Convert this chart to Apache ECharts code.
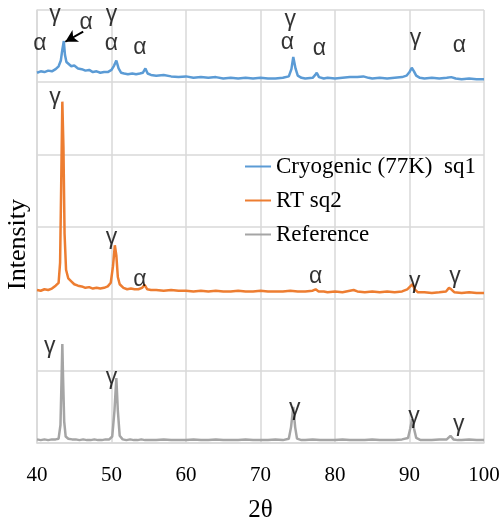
<!DOCTYPE html>
<html>
<head>
<meta charset="utf-8">
<script src="https://cdn.jsdelivr.net/npm/echarts@6/dist/echarts.min.js"></script>
<style>
  html, body { margin: 0; padding: 0; background: #fff; }
  #chart { width: 504px; height: 518px; }
</style>
</head>
<body>
<div id="chart"></div>
<script>
// 2θ ticks
const xTicks = [40, 50, 60, 70, 80, 90, 100]

// 液氮处理样品 (offset up)
const cryo = [
  [40, 5.13], [40.5, 5.15], [41, 5.14], [41.5, 5.16], [42, 5.15], [42.5, 5.18], [42.9, 5.22], [43.2, 5.3],
  [43.4, 5.45], [43.6, 5.57], [43.75, 5.38], [43.95, 5.28], [44.2, 5.26], [44.6, 5.22], [45, 5.23], [45.5, 5.19],
  [46, 5.18], [46.5, 5.16], [47, 5.17], [47.5, 5.14], [48, 5.15], [48.5, 5.13], [49, 5.14], [49.5, 5.14],
  [50, 5.17], [50.35, 5.23], [50.65, 5.3], [50.95, 5.19], [51.3, 5.13], [51.7, 5.12], [52.2, 5.11], [52.8, 5.12],
  [53.3, 5.11], [53.8, 5.12], [54.2, 5.13], [54.55, 5.19], [54.85, 5.12], [55.3, 5.1], [56, 5.09], [57, 5.1],
  [58, 5.08], [59, 5.07], [60, 5.08], [61, 5.06], [62, 5.07], [63, 5.06], [64, 5.07], [65, 5.05],
  [66, 5.06], [67, 5.05], [68, 5.06], [69, 5.05], [70, 5.06], [71, 5.05], [72, 5.05], [73, 5.06],
  [73.8, 5.08], [74.15, 5.18], [74.4, 5.35], [74.7, 5.19], [75, 5.09], [75.5, 5.06], [76, 5.05], [77, 5.06],
  [77.35, 5.1], [77.55, 5.13], [77.85, 5.07], [78.5, 5.05], [79, 5.06], [80, 5.05], [81, 5.06], [82, 5.07],
  [83, 5.07], [83.8, 5.08], [84.5, 5.06], [85, 5.05], [86, 5.06], [87, 5.05], [88, 5.06], [89, 5.07],
  [89.6, 5.09], [90, 5.14], [90.3, 5.2], [90.6, 5.15], [90.9, 5.09], [91.4, 5.06], [92, 5.05], [93, 5.06],
  [94, 5.05], [95, 5.06], [95.6, 5.07], [96.2, 5.05], [97, 5.04], [98, 5.05], [99, 5.04], [100, 5.04]
]

// 室温样品
const rt = [
  [40, 2.12], [40.5, 2.11], [41, 2.13], [41.5, 2.12], [42, 2.14], [42.5, 2.18], [42.9, 2.22], [43.1, 2.5],
  [43.25, 3.6], [43.4, 4.73], [43.55, 4.1], [43.7, 2.9], [43.9, 2.4], [44.2, 2.28], [44.6, 2.24], [45, 2.2],
  [45.5, 2.18], [46, 2.17], [46.5, 2.15], [47, 2.16], [47.5, 2.14], [48, 2.15], [48.5, 2.14], [49, 2.15],
  [49.5, 2.17], [49.9, 2.22], [50.2, 2.45], [50.45, 2.74], [50.65, 2.6], [50.85, 2.3], [51.1, 2.2], [51.6, 2.15],
  [52.1, 2.13], [52.6, 2.14], [53.1, 2.13], [53.6, 2.13], [54.1, 2.15], [54.45, 2.19], [54.8, 2.13], [55.3, 2.12],
  [56, 2.12], [57, 2.11], [58, 2.12], [59, 2.11], [60, 2.11], [61, 2.1], [62, 2.11], [63, 2.1],
  [64, 2.11], [65, 2.1], [66, 2.1], [67, 2.11], [68, 2.1], [69, 2.1], [70, 2.11], [71, 2.1],
  [72, 2.1], [73, 2.1], [74, 2.11], [75, 2.1], [76, 2.1], [77, 2.11], [77.4, 2.13], [77.8, 2.1],
  [78.5, 2.1], [79, 2.09], [80, 2.1], [81, 2.09], [82, 2.11], [82.5, 2.12], [83, 2.1], [84, 2.09],
  [85, 2.1], [86, 2.09], [87, 2.1], [88, 2.09], [89, 2.1], [89.7, 2.13], [90.1, 2.17], [90.4, 2.2],
  [90.7, 2.13], [91.1, 2.09], [92, 2.09], [93, 2.08], [94, 2.09], [94.9, 2.1], [95.3, 2.15], [95.6, 2.13],
  [96, 2.09], [97, 2.08], [98, 2.09], [99, 2.08], [100, 2.08]
]

// 参考样品
const ref = [
  [40, 0.05], [40.5, 0.04], [41, 0.05], [41.5, 0.04], [42, 0.05], [42.5, 0.05], [42.9, 0.06], [43.15, 0.25],
  [43.3, 0.9], [43.4, 1.37], [43.5, 0.9], [43.65, 0.3], [43.85, 0.09], [44.2, 0.06], [44.7, 0.05], [45.2, 0.05],
  [45.7, 0.04], [46.2, 0.05], [46.7, 0.04], [47.2, 0.04], [47.7, 0.05], [48.2, 0.04], [48.7, 0.04], [49.2, 0.05],
  [49.7, 0.05], [50.1, 0.09], [50.4, 0.45], [50.65, 0.9], [50.85, 0.45], [51.1, 0.1], [51.5, 0.05], [52, 0.04],
  [52.5, 0.05], [53, 0.04], [53.5, 0.04], [54, 0.05], [54.5, 0.04], [55, 0.04], [56, 0.04], [57, 0.05],
  [58, 0.04], [59, 0.04], [60, 0.04], [61, 0.05], [62, 0.04], [63, 0.04], [64, 0.05], [65, 0.04],
  [66, 0.04], [67, 0.04], [68, 0.05], [69, 0.04], [70, 0.04], [71, 0.04], [72, 0.05], [73, 0.04],
  [73.8, 0.06], [74.1, 0.22], [74.4, 0.5], [74.65, 0.22], [74.9, 0.06], [75.5, 0.04], [76, 0.04], [77, 0.05],
  [78, 0.04], [79, 0.04], [80, 0.04], [81, 0.05], [82, 0.04], [83, 0.04], [84, 0.04], [85, 0.05],
  [86, 0.04], [87, 0.04], [88, 0.04], [89, 0.05], [89.8, 0.07], [90.1, 0.2], [90.35, 0.33], [90.6, 0.2],
  [90.9, 0.07], [91.5, 0.04], [92, 0.04], [93, 0.04], [94, 0.05], [95, 0.05], [95.5, 0.1], [95.9, 0.05],
  [96.5, 0.04], [97, 0.04], [98, 0.05], [99, 0.04], [100, 0.04]
]

// 相标注 [2θ, 高度, 文字]
const phaseLabels = [
  [40.4, 5.54, 'α'], [42.4, 5.93, 'γ'], [46.6, 5.82, 'α'], [50.0, 5.93, 'γ'], [50.0, 5.54, 'α'],
  [53.8, 5.48, 'α'], [74.0, 5.86, 'γ'], [73.6, 5.55, 'α'], [77.9, 5.47, 'α'], [90.8, 5.6, 'γ'],
  [96.7, 5.51, 'α'],
  [42.4, 4.79, 'γ'], [50.0, 2.84, 'γ'], [53.8, 2.26, 'α'], [77.4, 2.3, 'α'], [90.7, 2.23, 'γ'],
  [96.1, 2.3, 'γ'],
  [41.7, 1.33, 'γ'], [50.0, 0.91, 'γ'], [74.6, 0.48, 'γ'], [90.6, 0.36, 'γ'], [96.6, 0.25, 'γ']
]

// 箭头：从α标注指向峰顶
const arrowFrom = [46.2, 5.7]
const arrowTo = [43.8, 5.56]

const seriesNames = ['Cryogenic (77K)  sq1', 'RT sq2', 'Reference']
const colors = ['#5b9bd5', '#ed7d31', '#a5a5a5']

const myChart = echarts.init(document.getElementById('chart'))

const lineSeries = (name, data, color) => ({
  name,
  type: 'line',
  data,
  showSymbol: false,
  symbol: 'none',
  color,
  lineStyle: { width: 2.5, color },
  z: 3
})

myChart.setOption({
  animation: false,
  grid: {
    left: 37,
    top: 10,
    width: 447,
    height: 433,
    outerBoundsMode: 'none'
  },
  legend: {
    data: seriesNames,
    orient: 'vertical',
    left: 240,
    top: 150,
    itemWidth: 26,
    itemHeight: 2,
    itemGap: 11,
    icon: 'rect',
    textStyle: {
      fontFamily: 'Liberation Serif',
      fontSize: 23,
      color: '#000'
    }
  },
  xAxis: {
    type: 'value',
    min: xTicks[0],
    max: xTicks[xTicks.length - 1],
    interval: 10,
    name: '2θ',
    nameLocation: 'middle',
    nameGap: 55,
    nameTextStyle: {
      fontFamily: 'Liberation Serif',
      fontSize: 25,
      color: '#000'
    },
    axisLine: { lineStyle: { color: '#d9d9d9', width: 1.5 } },
    axisTick: { show: false },
    axisLabel: {
      margin: 22,
      fontFamily: 'Liberation Serif',
      fontSize: 21,
      color: '#000'
    },
    splitLine: { show: true, lineStyle: { color: '#d9d9d9', width: 1.5 } }
  },
  yAxis: {
    type: 'value',
    min: 0,
    max: 6,
    interval: 1,
    name: 'Intensity',
    nameLocation: 'middle',
    nameGap: 6,
    nameTextStyle: {
      fontFamily: 'Liberation Serif',
      fontSize: 26,
      color: '#000',
      padding: [0, 36, 0, 0]
    },
    axisLine: { show: true, lineStyle: { color: '#d9d9d9', width: 1.5 } },
    axisTick: { show: false },
    axisLabel: { show: false },
    splitLine: { show: true, lineStyle: { color: '#d9d9d9', width: 1.5 } }
  },
  series: [
    lineSeries(seriesNames[0], cryo, colors[0]),
    lineSeries(seriesNames[1], rt, colors[1]),
    lineSeries(seriesNames[2], ref, colors[2]),
    {
      name: 'labels',
      type: 'scatter',
      data: phaseLabels,
      symbolSize: 0,
      silent: true,
      z: 5,
      label: {
        show: true,
        position: 'inside',
        formatter: (p) => p.value[2],
        fontFamily: 'Liberation Sans',
        fontSize: 23,
        color: '#000'
      },
      markLine: {
        silent: true,
        symbol: ['none', 'arrow'],
        symbolSize: [10, 12],
        lineStyle: { color: '#000', width: 2, type: 'solid' },
        label: { show: false },
        data: [[{ coord: arrowFrom }, { coord: arrowTo }]]
      }
    }
  ]
})
</script>
</body>
</html>
